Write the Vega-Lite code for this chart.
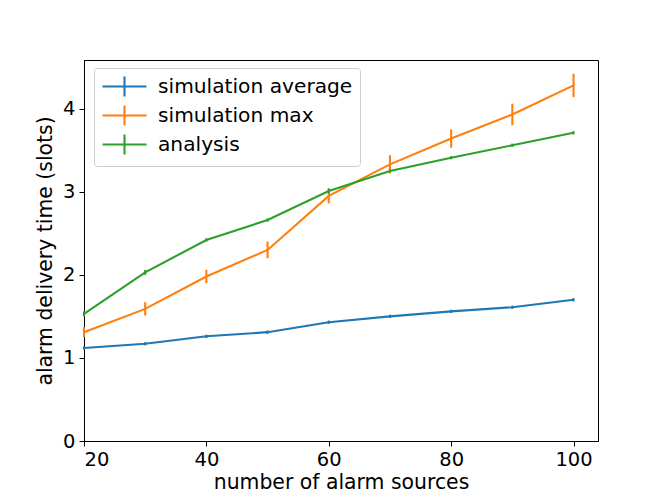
{
  "$schema": "https://vega.github.io/schema/vega-lite/v6.json",
  "width": 514,
  "height": 381,
  "autosize": {"type": "none"},
  "padding": {"left": 84, "top": 60, "right": 66, "bottom": 56},
  "background": "white",
  "config": {
    "font": "DejaVu Sans",
    "view": {"stroke": "black", "strokeWidth": 1},
    "axis": {
      "grid": false,
      "domainColor": "black",
      "domainWidth": 1,
      "tickColor": "black",
      "tickSize": 5,
      "tickWidth": 1,
      "labelFontSize": 19.5,
      "labelColor": "black",
      "labelPadding": 4,
      "titleFontSize": 20.4,
      "titleFontWeight": "normal",
      "titleColor": "black"
    },
    "legend": {
      "orient": "none",
      "legendX": 10,
      "legendY": 8,
      "strokeColor": "#cccccc",
      "fillColor": "white",
      "cornerRadius": 3,
      "padding": 7,
      "symbolType": "M-2.2,0H2.2M0,-1V1",
      "symbolSize": 400,
      "symbolStrokeWidth": 2.1,
      "symbolOffset": 12,
      "labelFontSize": 20.2,
      "labelColor": "black",
      "labelOffset": 22,
      "labelLimit": 0,
      "rowPadding": 0
    }
  },
  "data": {
    "values": [
      {"n": 20, "series": "simulation average", "y": 1.12, "lo": 1.10, "hi": 1.14},
      {"n": 30, "series": "simulation average", "y": 1.17, "lo": 1.15, "hi": 1.19},
      {"n": 40, "series": "simulation average", "y": 1.26, "lo": 1.24, "hi": 1.28},
      {"n": 50, "series": "simulation average", "y": 1.31, "lo": 1.29, "hi": 1.33},
      {"n": 60, "series": "simulation average", "y": 1.43, "lo": 1.41, "hi": 1.45},
      {"n": 70, "series": "simulation average", "y": 1.50, "lo": 1.48, "hi": 1.52},
      {"n": 80, "series": "simulation average", "y": 1.56, "lo": 1.54, "hi": 1.58},
      {"n": 90, "series": "simulation average", "y": 1.61, "lo": 1.59, "hi": 1.63},
      {"n": 100, "series": "simulation average", "y": 1.70, "lo": 1.68, "hi": 1.72},
      {"n": 20, "series": "simulation max", "y": 1.31, "lo": 1.25, "hi": 1.37},
      {"n": 30, "series": "simulation max", "y": 1.59, "lo": 1.51, "hi": 1.67},
      {"n": 40, "series": "simulation max", "y": 1.98, "lo": 1.90, "hi": 2.06},
      {"n": 50, "series": "simulation max", "y": 2.30, "lo": 2.20, "hi": 2.40},
      {"n": 60, "series": "simulation max", "y": 2.95, "lo": 2.86, "hi": 3.04},
      {"n": 70, "series": "simulation max", "y": 3.33, "lo": 3.22, "hi": 3.44},
      {"n": 80, "series": "simulation max", "y": 3.64, "lo": 3.53, "hi": 3.75},
      {"n": 90, "series": "simulation max", "y": 3.93, "lo": 3.80, "hi": 4.06},
      {"n": 100, "series": "simulation max", "y": 4.28, "lo": 4.14, "hi": 4.42},
      {"n": 20, "series": "analysis", "y": 1.53, "lo": 1.50, "hi": 1.56},
      {"n": 30, "series": "analysis", "y": 2.03, "lo": 2.00, "hi": 2.06},
      {"n": 40, "series": "analysis", "y": 2.42, "lo": 2.40, "hi": 2.44},
      {"n": 50, "series": "analysis", "y": 2.66, "lo": 2.64, "hi": 2.68},
      {"n": 60, "series": "analysis", "y": 3.01, "lo": 2.98, "hi": 3.04},
      {"n": 70, "series": "analysis", "y": 3.25, "lo": 3.23, "hi": 3.27},
      {"n": 80, "series": "analysis", "y": 3.41, "lo": 3.39, "hi": 3.43},
      {"n": 90, "series": "analysis", "y": 3.56, "lo": 3.54, "hi": 3.58},
      {"n": 100, "series": "analysis", "y": 3.71, "lo": 3.69, "hi": 3.73}
    ]
  },
  "encoding": {
    "x": {
      "field": "n",
      "type": "quantitative",
      "scale": {"domain": [20, 104], "nice": false, "zero": false},
      "axis": {"values": [20, 40, 60, 80, 100], "format": "d", "title": "number of alarm sources", "titlePadding": 4}
    },
    "color": {
      "field": "series",
      "type": "nominal",
      "scale": {
        "domain": ["simulation average", "simulation max", "analysis"],
        "range": ["#1f77b4", "#ff7f0e", "#2ca02c"]
      },
      "legend": {"title": null}
    }
  },
  "layer": [
    {
      "mark": {"type": "line", "strokeWidth": 2.1},
      "encoding": {
        "y": {
          "field": "y",
          "type": "quantitative",
          "scale": {"domain": [0, 4.586], "nice": false},
          "axis": {"values": [0, 1, 2, 3, 4], "format": "d", "title": "alarm delivery time (slots)", "titlePadding": 7}
        }
      }
    },
    {
      "mark": {"type": "rule", "strokeWidth": 2.1},
      "encoding": {
        "y": {"field": "lo", "type": "quantitative"},
        "y2": {"field": "hi"}
      }
    }
  ]
}
